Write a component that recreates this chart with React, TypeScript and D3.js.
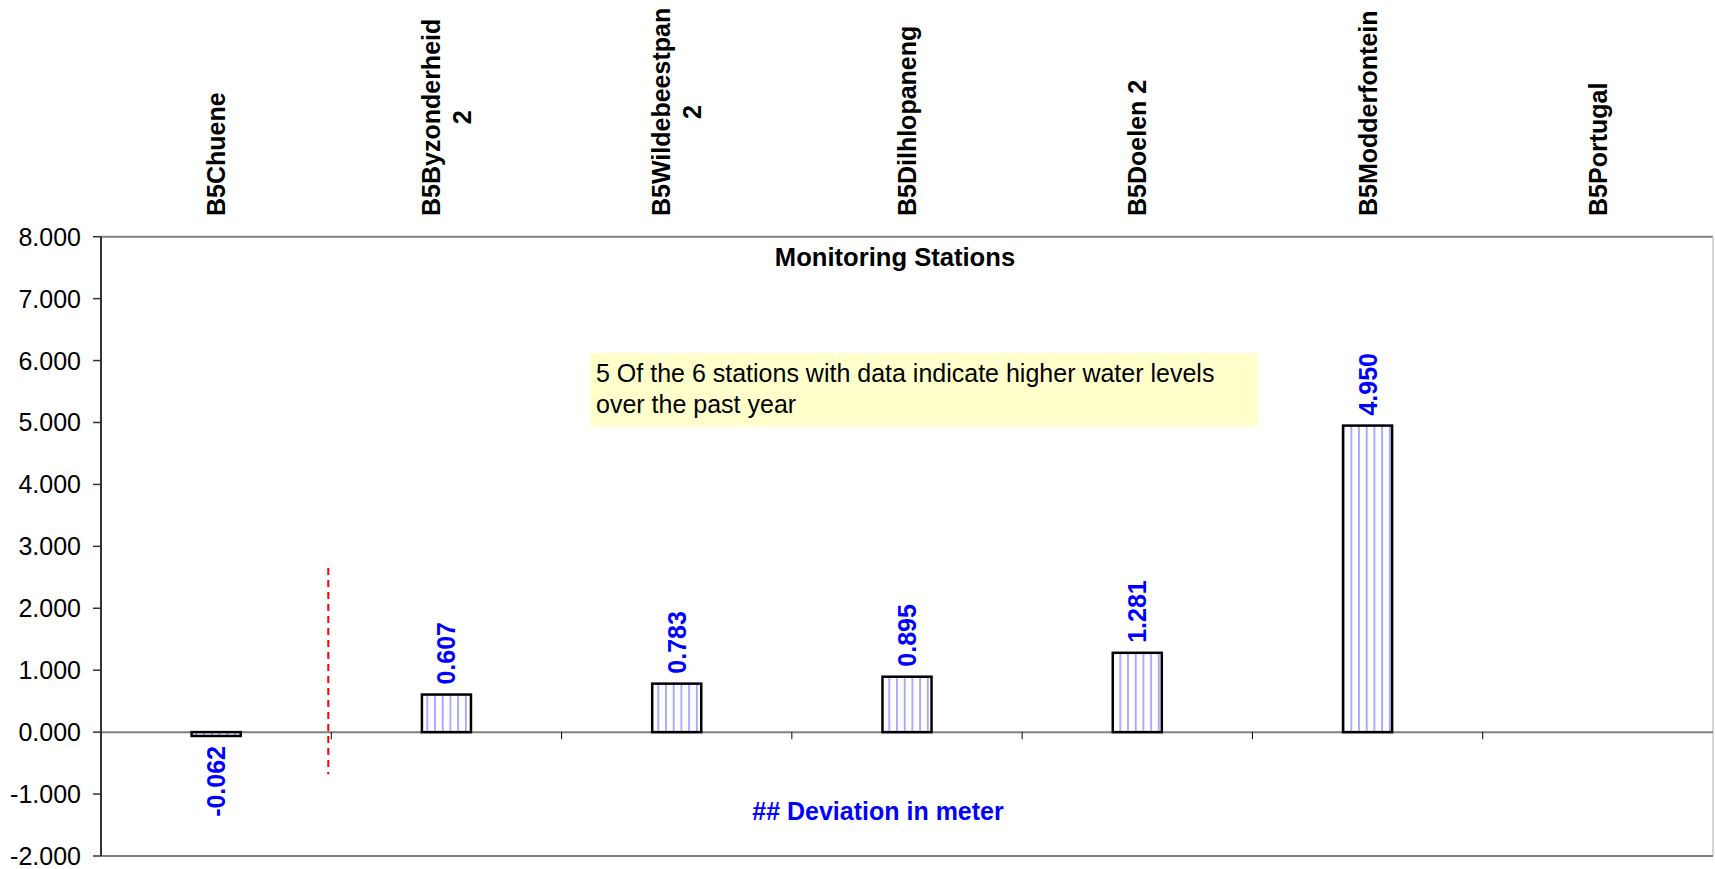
import React from "react";
import * as d3 from "d3";

const categories: string[] = [
  "B5Chuene",
  "B5Byzonderheid\n2",
  "B5Wildebeestpan\n2",
  "B5Dilhlopaneng",
  "B5Doelen 2",
  "B5Modderfontein",
  "B5Portugal",
];
const deviations: (number | null)[] = [-0.062, 0.607, 0.783, 0.895, 1.281, 4.95, null];
const yTicks: number[] = [-2, -1, 0, 1, 2, 3, 4, 5, 6, 7, 8];
const chartTitle = "Monitoring Stations";
const seriesLabel = "## Deviation in meter";
const noteLines: string[] = [
  "5 Of the 6 stations with data indicate higher water levels",
  "over the past year",
];
// red dashed marker (data units)
const markerRange: [number, number] = [2.65, -0.68];

const W = 1715;
const H = 869;
const left = 101;
const right = 1713;
const top = 236.7;
const bottom = 856;
const FONT = "'Liberation Sans', Arial, Helvetica, sans-serif";

function measure(text: string, font: string): number {
  const c = document.createElement("canvas");
  const ctx = c.getContext("2d");
  if (!ctx) return text.length * 14;
  ctx.font = font;
  return ctx.measureText(text).width;
}

const f3 = d3.format(".3f");
const fmt = (v: number) => f3(v).replace("\u2212", "-");

export default function App() {
  const x = d3.scaleBand<string>().domain(categories).range([left, right]).padding(0);
  const y = d3.scaleLinear().domain([-2, 8]).range([bottom, top]);
  const bw = x.bandwidth();
  const barW = bw * 0.213;
  const y0 = y(0);
  const labelBottom = 216;
  const boldFont = `bold 25px ${FONT}`;

  return (
    <div style={{ position: "absolute", left: 0, top: 0 }}>
      <svg width={W} height={H} style={{ display: "block", background: "#fff" }}>
        <defs>
          <pattern id="vhatch" patternUnits="userSpaceOnUse" width={7.7} height={10}>
            <rect width={7.7} height={10} fill="#ffffff" />
            <line x1={3.8} x2={3.8} y1={0} y2={10} stroke="#9999ff" strokeWidth={1.6} />
          </pattern>
        </defs>

        {/* plot border */}
        <line x1={left} x2={right} y1={top} y2={top} stroke="#808080" strokeWidth={2} />
        <line x1={right} x2={right} y1={top} y2={bottom} stroke="#c8c8c8" strokeWidth={1.5} />
        <line x1={left} x2={right} y1={bottom} y2={bottom} stroke="#808080" strokeWidth={2} />

        {/* zero line */}
        <line x1={left} x2={right} y1={y0} y2={y0} stroke="#808080" strokeWidth={2} />
        {categories.map((c, i) =>
          i === 0 ? null : (
            <line key={"ct" + i} x1={x(c)!} x2={x(c)!} y1={y0} y2={y0 + 7} stroke="#000" strokeWidth={1} />
          )
        )}

        {/* y axis */}
        <line x1={left} x2={left} y1={top} y2={bottom} stroke="#333" strokeWidth={2} />
        {yTicks.map((t) => (
          <g key={"yt" + t}>
            <line x1={left - 8} x2={left} y1={y(t)} y2={y(t)} stroke="#333" strokeWidth={1.5} />
            <text
              x={81}
              y={y(t)}
              dy="0.36em"
              textAnchor="end"
              fontFamily={FONT}
              fontSize={25}
              fill="#000"
            >
              {fmt(t)}
            </text>
          </g>
        ))}

        {/* category labels (rotated) */}
        {categories.map((c, i) => {
          const cx = x(c)! + bw / 2;
          const lines = c.split("\n");
          if (lines.length === 1) {
            return (
              <text
                key={"cl" + i}
                transform={`translate(${cx},${labelBottom}) rotate(-90)`}
                dy="0.36em"
                textAnchor="start"
                fontFamily={FONT}
                fontWeight="bold"
                fontSize={25}
                fill="#000"
              >
                {lines[0]}
              </text>
            );
          }
          const w1 = measure(lines[0], boldFont);
          const gap = 31.5;
          return (
            <g key={"cl" + i}>
              <text
                transform={`translate(${cx - gap / 2},${labelBottom}) rotate(-90)`}
                dy="0.36em"
                textAnchor="start"
                fontFamily={FONT}
                fontWeight="bold"
                fontSize={25}
                fill="#000"
              >
                {lines[0]}
              </text>
              <text
                transform={`translate(${cx + gap / 2},${labelBottom - w1 / 2}) rotate(-90)`}
                dy="0.36em"
                textAnchor="middle"
                fontFamily={FONT}
                fontWeight="bold"
                fontSize={25}
                fill="#000"
              >
                {lines[1]}
              </text>
            </g>
          );
        })}

        {/* title */}
        <text
          x={895}
          y={266}
          textAnchor="middle"
          fontFamily={FONT}
          fontWeight="bold"
          fontSize={25.6}
          fill="#000"
        >
          {chartTitle}
        </text>

        {/* bars */}
        {categories.map((c, i) => {
          const v = deviations[i];
          if (v === null) return null;
          const cx = x(c)! + bw / 2;
          const yt = y(Math.max(0, v));
          const yb = y(Math.min(0, v));
          return (
            <rect
              key={"b" + i}
              x={cx - barW / 2}
              y={yt}
              width={barW}
              height={Math.max(yb - yt, 1)}
              fill="url(#vhatch)"
              stroke="#000"
              strokeWidth={2.5}
            />
          );
        })}

        {/* value labels */}
        {categories.map((c, i) => {
          const v = deviations[i];
          if (v === null) return null;
          const cx = x(c)! + bw / 2;
          const pos = v >= 0;
          const yy = pos ? y(v) - 10 : y(v) + 10;
          return (
            <text
              key={"vl" + i}
              transform={`translate(${cx},${yy}) rotate(-90)`}
              dy="0.36em"
              textAnchor={pos ? "start" : "end"}
              fontFamily={FONT}
              fontWeight="bold"
              fontSize={25}
              fill="#0000ff"
            >
              {fmt(v)}
            </text>
          );
        })}

        {/* red dashed marker */}
        <line
          x1={x(categories[1])! - 3}
          x2={x(categories[1])! - 3}
          y1={y(markerRange[0])}
          y2={y(markerRange[1])}
          stroke="#ff0000"
          strokeWidth={2}
          strokeDasharray="7,5"
        />

        {/* annotation box */}
        <rect x={590} y={353} width={668} height={73.6} fill="#ffffcc" />
        {noteLines.map((l, i) => (
          <text
            key={"n" + i}
            x={596}
            y={382 + i * 30.6}
            fontFamily={FONT}
            fontSize={25}
            fill="#000"
          >
            {l}
          </text>
        ))}

        {/* series label */}
        <text
          x={878}
          y={819.5}
          textAnchor="middle"
          fontFamily={FONT}
          fontWeight="bold"
          fontSize={25}
          fill="#0000ff"
        >
          {seriesLabel}
        </text>
      </svg>
    </div>
  );
}
